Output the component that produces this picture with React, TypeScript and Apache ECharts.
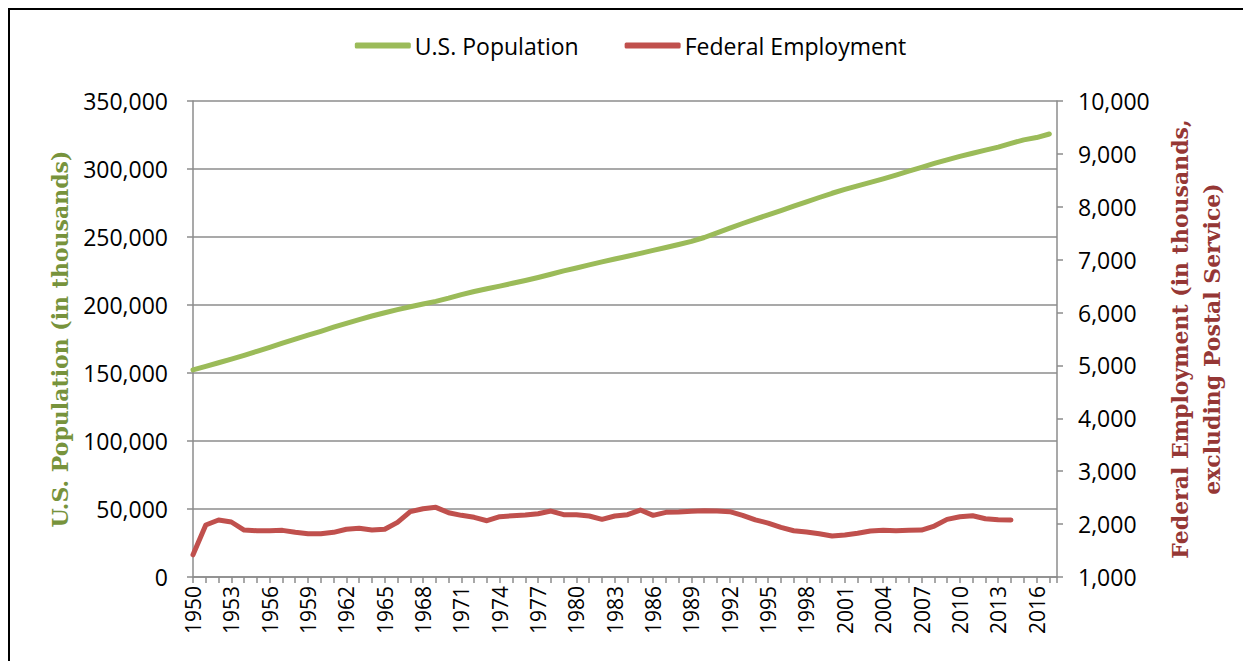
import React, { useEffect, useRef } from "react";
import * as echarts from "echarts";

const years = [
  1950, 1951, 1952, 1953, 1954, 1955, 1956, 1957, 1958, 1959,
  1960, 1961, 1962, 1963, 1964, 1965, 1966, 1967, 1968, 1969,
  1970, 1971, 1972, 1973, 1974, 1975, 1976, 1977, 1978, 1979,
  1980, 1981, 1982, 1983, 1984, 1985, 1986, 1987, 1988, 1989,
  1990, 1991, 1992, 1993, 1994, 1995, 1996, 1997, 1998, 1999,
  2000, 2001, 2002, 2003, 2004, 2005, 2006, 2007, 2008, 2009,
  2010, 2011, 2012, 2013, 2014, 2015, 2016, 2017,
];

// U.S. Population (thousands)
const population = [
  152271, 154878, 157553, 160184, 163026, 165931, 168903, 171984, 174882, 177830,
  180671, 183691, 186538, 189242, 191889, 194303, 196560, 198712, 200706, 202677,
  205052, 207661, 209896, 211909, 213854, 215973, 218035, 220239, 222585, 225055,
  227225, 229466, 231664, 233792, 235825, 237924, 240133, 242289, 244499, 246819,
  249623, 252981, 256514, 259919, 263126, 266278, 269394, 272647, 275854, 279040,
  282162, 284969, 287625, 290108, 292805, 295517, 298380, 301231, 304094, 306772,
  309326, 311583, 313874, 316129, 318857, 321419, 323128, 325719,
];

// Federal Employment excluding Postal Service (thousands), 1950-2014
const federal = [
  1420, 1983, 2077, 2040, 1888, 1875, 1875, 1882, 1845, 1818,
  1818, 1845, 1902, 1920, 1888, 1902, 2033, 2235, 2291, 2317,
  2216, 2166, 2128, 2064, 2140, 2159, 2172, 2197, 2247, 2178,
  2178, 2153, 2090, 2153, 2178, 2266, 2166, 2223, 2229, 2242,
  2254, 2247, 2235, 2166, 2080, 2020, 1939, 1875, 1850, 1818,
  1775, 1794, 1826, 1869, 1882, 1875, 1882, 1888, 1964, 2090,
  2140, 2159, 2102, 2083, 2077,
];

const seriesNames = ["U.S. Population", "Federal Employment"];
const leftAxisTitle = "U.S. Population (in thousands)";
const rightAxisTitle = "Federal Employment (in thousands,\nexcluding Postal Service)";

const fmt = (v: number) => Math.round(v).toLocaleString("en-US");

export default function App() {
  const ref = useRef<HTMLDivElement>(null);

  useEffect(() => {
    document.body.style.overflow = "hidden";
    if (!ref.current) return;
    const chart = echarts.init(ref.current, undefined, { renderer: "svg" });
    const axisGray = "#8c8c8c";
    const labelFont = { fontFamily: "Open Sans", fontSize: 23, color: "#000" };
    chart.setOption({
      animation: false,
      backgroundColor: "#fff",
      legend: {
        top: 19,
        left: "center",
        itemWidth: 56,
        itemHeight: 6,
        itemGap: 46,
        icon: "roundRect",
        textStyle: { fontFamily: "Open Sans", fontSize: 23, color: "#000", padding: [0, 0, 0, -1] },
        data: seriesNames,
      },
      grid: { left: 183, top: 91, width: 864, height: 476, containLabel: false },
      xAxis: {
        type: "value",
        min: 1950,
        max: 2017.6,
        interval: 1,
        axisLine: { show: true, lineStyle: { color: axisGray, width: 1.5 } },
        axisTick: { show: true, length: 6, lineStyle: { color: axisGray, width: 1.5 } },
        splitLine: { show: false },
        axisLabel: {
          ...labelFont,
          fontSize: 21,
          rotate: 90,
          margin: 9,
          formatter: (v: number) =>
            Number.isInteger(v) && (v - 1950) % 3 === 0 ? String(v) : "",
        },
      },
      yAxis: [
        {
          type: "value",
          min: 0,
          max: 350000,
          interval: 50000,
          position: "left",
          name: leftAxisTitle,
          nameLocation: "middle",
          nameRotate: 90,
          nameGap: 122,
          nameTextStyle: {
            fontFamily: "DejaVu Serif",
            fontWeight: "bold",
            fontSize: 22,
            color: "#77933C",
          },
          axisLine: { show: true, lineStyle: { color: axisGray, width: 1.5 } },
          axisTick: { show: true, length: 6, lineStyle: { color: axisGray, width: 1.5 } },
          splitLine: { show: true, lineStyle: { color: axisGray, width: 1.5 } },
          axisLabel: { ...labelFont, margin: 25, formatter: (v: number) => fmt(v) },
        },
        {
          type: "value",
          min: 1000,
          max: 10000,
          interval: 1000,
          position: "right",
          name: rightAxisTitle,
          nameLocation: "middle",
          nameRotate: 90,
          nameGap: 107,
          nameTextStyle: {
            fontFamily: "DejaVu Serif",
            fontWeight: "bold",
            fontSize: 22,
            lineHeight: 32,
            align: "center",
            color: "#953735",
          },
          axisLine: { show: true, lineStyle: { color: axisGray, width: 1.5 } },
          axisTick: { show: true, length: 6, lineStyle: { color: axisGray, width: 1.5 } },
          splitLine: { show: false },
          axisLabel: { ...labelFont, margin: 21, formatter: (v: number) => fmt(v) },
        },
      ],
      series: [
        {
          name: seriesNames[0],
          type: "line",
          yAxisIndex: 0,
          symbol: "none",
          color: "#9BBB59",
          lineStyle: { width: 5, color: "#9BBB59", cap: "round", join: "round" },
          data: years.map((y, i) => [y, population[i]]),
        },
        {
          name: seriesNames[1],
          type: "line",
          yAxisIndex: 1,
          symbol: "none",
          color: "#C0504D",
          lineStyle: { width: 5, color: "#C0504D", cap: "round", join: "round" },
          data: federal.map((v, i) => [years[i], v]),
        },
      ],
    });
    return () => chart.dispose();
  }, []);

  return (
    <div
      style={{
        width: 1243,
        height: 653,
        boxSizing: "border-box",
        borderLeft: "2px solid #000",
        borderTop: "2px solid #000",
        background: "#fff",
      }}
    >
      <div ref={ref} style={{ width: 1241, height: 651 }} />
    </div>
  );
}
